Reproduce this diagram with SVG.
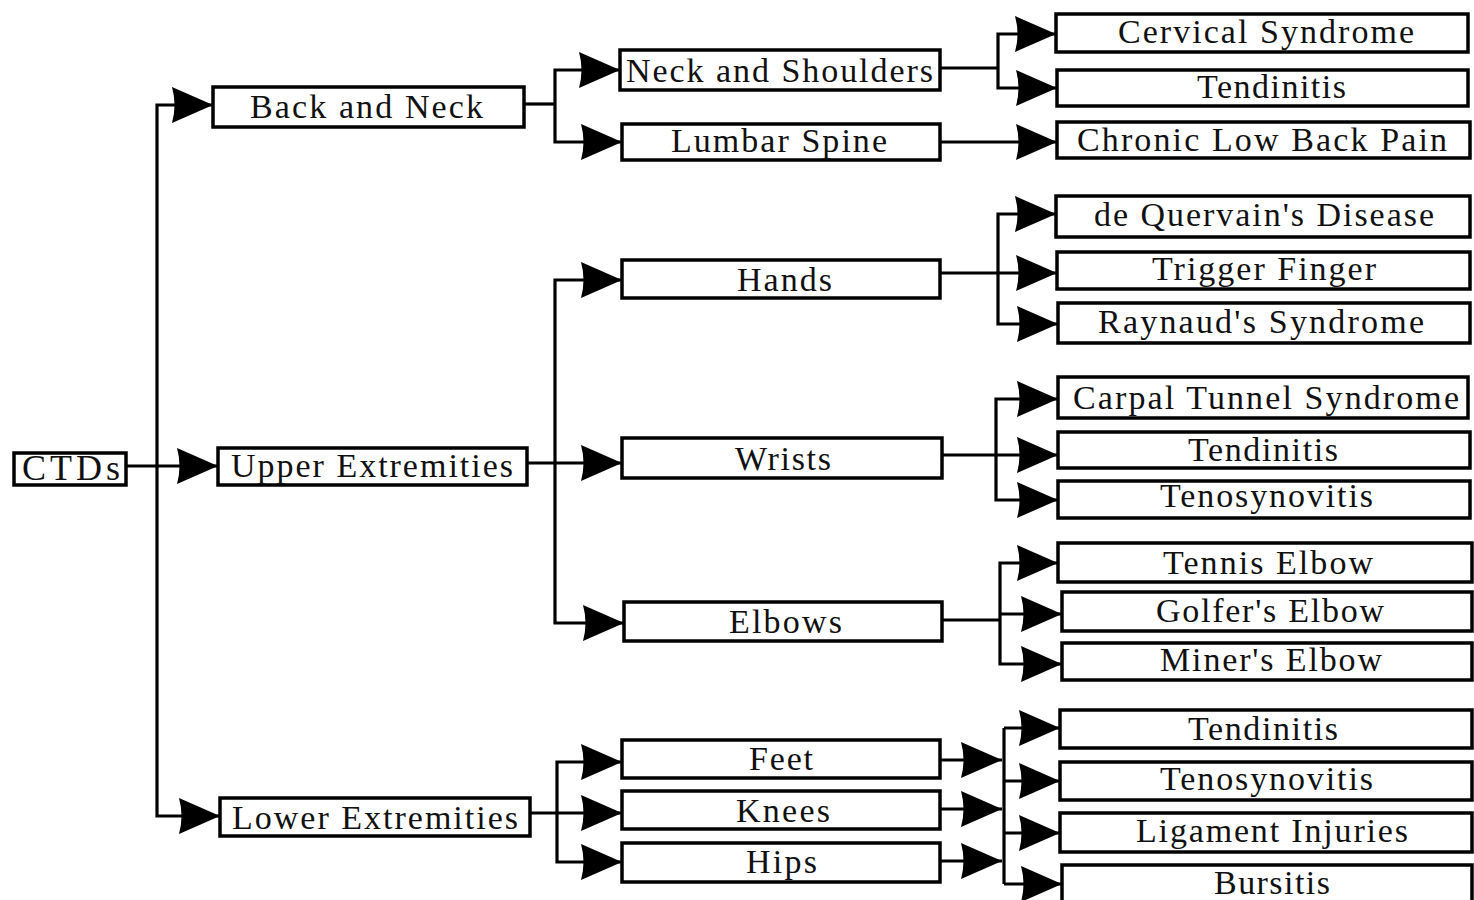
<svg xmlns="http://www.w3.org/2000/svg" width="1474" height="900" viewBox="0 0 1474 900">
  <defs>
    <style>
      .box { fill: #fff; stroke: #000; stroke-width: 3.5; }
      .lbl { font-family: "Liberation Serif", "Times New Roman", serif; font-size: 34px; fill: #111; }
      .wire { fill: none; stroke: #000; stroke-width: 3.2; }
      .wire.arr { marker-end: url(#ah); }
    </style>
    <!-- filled arrowhead, tip on the line end -->
    <marker id="ah" markerUnits="userSpaceOnUse" markerWidth="46" markerHeight="40" viewBox="0 0 46 40" refX="44" refY="20" orient="auto">
      <path d="M3,2 L44,20 L3,38 Q8,20 3,2 Z" fill="#000"/>
    </marker>
  </defs>
  <rect width="1474" height="900" fill="#fff"/>

  <!-- connectors -->
  <g id="connectors">
    <!-- root to body regions -->
    <path class="wire arr" d="M126,466 H218"/>
    <path class="wire arr" d="M157,466 V105 H213"/>
    <path class="wire arr" d="M157,466 V816 H220"/>
    <!-- back and neck -->
    <path class="wire" d="M524,104 H555"/>
    <path class="wire arr" d="M555,104 V70 H620"/>
    <path class="wire arr" d="M555,104 V142 H622"/>
    <!-- upper extremities -->
    <path class="wire arr" d="M527,463 H622"/>
    <path class="wire arr" d="M555,463 V280 H622"/>
    <path class="wire arr" d="M555,463 V623 H624"/>
    <!-- lower extremities -->
    <path class="wire arr" d="M530,813 H622"/>
    <path class="wire arr" d="M557,813 V762 H622"/>
    <path class="wire arr" d="M557,813 V862 H622"/>
    <!-- neck and shoulders -->
    <path class="wire" d="M940,68 H998"/>
    <path class="wire arr" d="M998,68 V34 H1056"/>
    <path class="wire arr" d="M998,68 V88 H1057"/>
    <!-- lumbar spine -->
    <path class="wire arr" d="M940,142 H1057"/>
    <!-- hands -->
    <path class="wire arr" d="M940,273 H1057"/>
    <path class="wire arr" d="M998,273 V214 H1056"/>
    <path class="wire arr" d="M998,273 V324 H1058"/>
    <!-- wrists -->
    <path class="wire arr" d="M942,455 H1058"/>
    <path class="wire arr" d="M996,455 V399 H1058"/>
    <path class="wire arr" d="M996,455 V500 H1058"/>
    <!-- elbows -->
    <path class="wire" d="M942,620 H1000"/>
    <path class="wire arr" d="M1000,620 V563 H1058"/>
    <path class="wire arr" d="M1000,614 H1062"/>
    <path class="wire arr" d="M1000,620 V664 H1062"/>
    <!-- feet, knees, hips merge into shared disorders -->
    <path class="wire arr" d="M940,760 H1002"/>
    <path class="wire arr" d="M940,809 H1002"/>
    <path class="wire arr" d="M940,861 H1002"/>
    <path class="wire" d="M1004,728 V884"/>
    <path class="wire arr" d="M1004,728 H1060"/>
    <path class="wire arr" d="M1004,781 H1060"/>
    <path class="wire arr" d="M1004,833 H1060"/>
    <path class="wire arr" d="M1004,884 H1062"/>
  </g>

  <!-- root -->
  <g id="ctds"><rect class="box" x="14" y="453" width="112" height="32"/><text class="lbl" x="22" y="480" style="font-size:36px" textLength="98" lengthAdjust="spacing">CTDs</text></g>

  <!-- body regions -->
  <g id="back-neck"><rect class="box" x="213" y="87" width="311" height="40"/><text class="lbl" x="250" y="118" textLength="233" lengthAdjust="spacing">Back and Neck</text></g>
  <g id="upper-extremities"><rect class="box" x="218" y="448" width="309" height="37"/><text class="lbl" x="231" y="477" textLength="282" lengthAdjust="spacing">Upper Extremities</text></g>
  <g id="lower-extremities"><rect class="box" x="220" y="798" width="310" height="38"/><text class="lbl" x="232" y="829" textLength="286" lengthAdjust="spacing">Lower Extremities</text></g>

  <!-- body parts -->
  <g id="neck-shoulders"><rect class="box" x="620" y="50" width="320" height="40"/><text class="lbl" x="626" y="82" textLength="307" lengthAdjust="spacing">Neck and Shoulders</text></g>
  <g id="lumbar-spine"><rect class="box" x="622" y="124" width="318" height="36"/><text class="lbl" x="671" y="152" textLength="216" lengthAdjust="spacing">Lumbar Spine</text></g>
  <g id="hands"><rect class="box" x="622" y="260" width="318" height="38"/><text class="lbl" x="737" y="291" textLength="95" lengthAdjust="spacing">Hands</text></g>
  <g id="wrists"><rect class="box" x="622" y="438" width="320" height="40"/><text class="lbl" x="735" y="470" textLength="96" lengthAdjust="spacing">Wrists</text></g>
  <g id="elbows"><rect class="box" x="624" y="602" width="318" height="39"/><text class="lbl" x="729" y="633" textLength="113" lengthAdjust="spacing">Elbows</text></g>
  <g id="feet"><rect class="box" x="622" y="740" width="318" height="38"/><text class="lbl" x="749" y="770" textLength="64" lengthAdjust="spacing">Feet</text></g>
  <g id="knees"><rect class="box" x="622" y="791" width="318" height="38"/><text class="lbl" x="736" y="822" textLength="94" lengthAdjust="spacing">Knees</text></g>
  <g id="hips"><rect class="box" x="622" y="843" width="318" height="39"/><text class="lbl" x="746" y="873" textLength="71" lengthAdjust="spacing">Hips</text></g>

  <!-- disorders -->
  <g id="cervical-syndrome"><rect class="box" x="1056" y="14" width="412" height="38"/><text class="lbl" x="1118" y="43" textLength="296" lengthAdjust="spacing">Cervical Syndrome</text></g>
  <g id="tendinitis-neck"><rect class="box" x="1057" y="70" width="411" height="36"/><text class="lbl" x="1197" y="98" textLength="149" lengthAdjust="spacing">Tendinitis</text></g>
  <g id="chronic-low-back-pain"><rect class="box" x="1057" y="122" width="413" height="36"/><text class="lbl" x="1077" y="151" textLength="370" lengthAdjust="spacing">Chronic Low Back Pain</text></g>
  <g id="de-quervain"><rect class="box" x="1056" y="196" width="414" height="41"/><text class="lbl" x="1094" y="226" textLength="340" lengthAdjust="spacing">de Quervain's Disease</text></g>
  <g id="trigger-finger"><rect class="box" x="1057" y="252" width="413" height="37"/><text class="lbl" x="1152" y="280" textLength="224" lengthAdjust="spacing">Trigger Finger</text></g>
  <g id="raynaud"><rect class="box" x="1058" y="303" width="412" height="40"/><text class="lbl" x="1098" y="333" textLength="326" lengthAdjust="spacing">Raynaud's Syndrome</text></g>
  <g id="carpal-tunnel"><rect class="box" x="1058" y="377" width="410" height="41"/><text class="lbl" x="1073" y="409" textLength="386" lengthAdjust="spacing">Carpal Tunnel Syndrome</text></g>
  <g id="tendinitis-wrist"><rect class="box" x="1058" y="432" width="412" height="36"/><text class="lbl" x="1188" y="461" textLength="150" lengthAdjust="spacing">Tendinitis</text></g>
  <g id="tenosynovitis-wrist"><rect class="box" x="1058" y="481" width="412" height="37"/><text class="lbl" x="1160" y="507" textLength="213" lengthAdjust="spacing">Tenosynovitis</text></g>
  <g id="tennis-elbow"><rect class="box" x="1058" y="543" width="414" height="39"/><text class="lbl" x="1163" y="574" textLength="210" lengthAdjust="spacing">Tennis Elbow</text></g>
  <g id="golfers-elbow"><rect class="box" x="1062" y="592" width="410" height="39"/><text class="lbl" x="1156" y="622" textLength="228" lengthAdjust="spacing">Golfer's Elbow</text></g>
  <g id="miners-elbow"><rect class="box" x="1062" y="643" width="410" height="37"/><text class="lbl" x="1160" y="671" textLength="222" lengthAdjust="spacing">Miner's Elbow</text></g>
  <g id="tendinitis-lower"><rect class="box" x="1060" y="710" width="412" height="38"/><text class="lbl" x="1188" y="740" textLength="150" lengthAdjust="spacing">Tendinitis</text></g>
  <g id="tenosynovitis-lower"><rect class="box" x="1060" y="762" width="412" height="38"/><text class="lbl" x="1160" y="790" textLength="213" lengthAdjust="spacing">Tenosynovitis</text></g>
  <g id="ligament-injuries"><rect class="box" x="1060" y="813" width="412" height="39"/><text class="lbl" x="1136" y="842" textLength="272" lengthAdjust="spacing">Ligament Injuries</text></g>
  <g id="bursitis"><rect class="box" x="1062" y="865" width="410" height="42"/><text class="lbl" x="1214" y="894" textLength="116" lengthAdjust="spacing">Bursitis</text></g>
</svg>
